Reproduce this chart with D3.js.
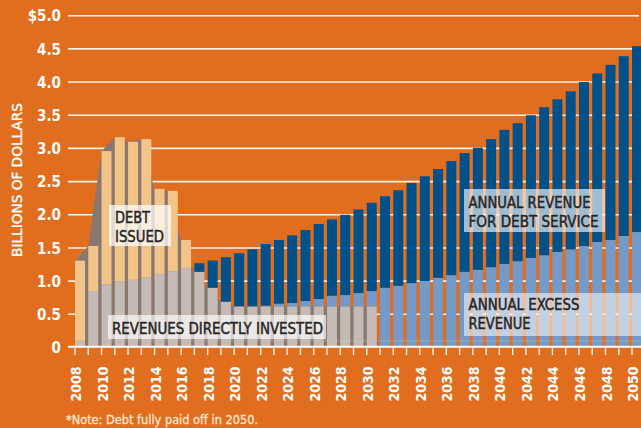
<!DOCTYPE html>
<html>
<head>
<meta charset="utf-8">
<script src="https://cdn.jsdelivr.net/npm/d3@7"></script>
<style>
  html, body { margin: 0; padding: 0; background: #e06e1e; }
  svg { display: block; }
</style>
</head>
<body>
<svg id="chart" width="641" height="428"></svg>
<script>
// Years on the horizontal axis
const years = [2008, 2009, 2010, 2011, 2012, 2013, 2014, 2015, 2016, 2017,
               2018, 2019, 2020, 2021, 2022, 2023, 2024, 2025, 2026, 2027,
               2028, 2029, 2030, 2031, 2032, 2033, 2034, 2035, 2036, 2037,
               2038, 2039, 2040, 2041, 2042, 2043, 2044, 2045, 2046, 2047,
               2048, 2049, 2050];

// Billions of dollars per year, one entry per year above
const invested = [0.10, 0.85, 0.95, 1.00, 1.02, 1.06, 1.11, 1.15, 1.20, 1.14,
                  0.90, 0.69, 0.62, 0.62, 0.62, 0.62, 0.62, 0.62, 0.62, 0.62,
                  0.62, 0.62, 0.62, 0, 0, 0, 0, 0, 0, 0,
                  0, 0, 0, 0, 0, 0, 0, 0, 0, 0,
                  0, 0, 0];
const debtIssued = [1.21, 0.68, 2.01, 2.17, 2.08, 2.08, 1.28, 1.21, 0.42, 0,
                    0, 0, 0, 0, 0, 0, 0, 0, 0, 0,
                    0, 0, 0, 0, 0, 0, 0, 0, 0, 0,
                    0, 0, 0, 0, 0, 0, 0, 0, 0, 0,
                    0, 0, 0];
const excessRevenue = [0, 0, 0, 0, 0, 0, 0, 0, 0, 0,
                       0, 0, 0, 0, 0.01, 0.04, 0.05, 0.08, 0.11, 0.16,
                       0.17, 0.20, 0.23, 0.90, 0.93, 0.97, 1.00, 1.05, 1.09, 1.14,
                       1.17, 1.21, 1.26, 1.30, 1.35, 1.39, 1.44, 1.48, 1.53, 1.59,
                       1.62, 1.68, 1.74];
const debtService = [0, 0, 0, 0, 0, 0, 0, 0, 0, 0.13,
                     0.41, 0.67, 0.80, 0.86, 0.93, 0.96, 1.02, 1.07, 1.13, 1.15,
                     1.21, 1.26, 1.33, 1.38, 1.44, 1.51, 1.58, 1.64, 1.72, 1.79,
                     1.84, 1.93, 2.02, 2.08, 2.15, 2.23, 2.30, 2.38, 2.47, 2.54,
                     2.64, 2.71, 2.80];

const yTickValues = [0, 0.5, 1.0, 1.5, 2.0, 2.5, 3.0, 3.5, 4.0, 4.5, 5.0];
const yTickLabels = ["0", "0.5", "1.0", "1.5", "2.0", "2.5", "3.0", "3.5", "4.0", "4.5", "$5.0"];
const xLabelYears = [2008, 2010, 2012, 2014, 2016, 2018, 2020, 2022, 2024, 2026, 2028,
                     2030, 2032, 2034, 2036, 2038, 2040, 2042, 2044, 2046, 2048, 2050];

const colors = {
  bg: "#e06e1e",
  grid: "#fdf1e6",
  shadow: "#8a786f",
  invested: "#c5bbb6",
  debtIssued: "#f3c487",
  excessRevenue: "#739ac8",
  debtService: "#00518a"
};

const rows = years.map((yr, i) => ({
  year: yr,
  invested: invested[i],
  debtIssued: debtIssued[i],
  excessRevenue: excessRevenue[i],
  debtService: debtService[i]
}));

const svg = d3.select("#chart");
const W = 641, H = 428;
svg.append("rect").attr("width", W).attr("height", H).attr("fill", colors.bg);

const step = 13.262, pad = 0.246;
const x = d3.scaleBand()
  .domain(years)
  .range([75, 75 + step * (years.length - pad)])
  .paddingInner(pad)
  .paddingOuter(0)
  .align(0);
const y = d3.scaleLinear().domain([0, 5]).range([347.5, 15.7]);

const condensed = "'DejaVu Sans Condensed', 'DejaVu Sans', sans-serif";

// Horizontal gridlines
svg.append("g").selectAll("line")
  .data(yTickValues.filter(v => v > 0))
  .join("line")
  .attr("x1", 68).attr("x2", d => d === 5 ? 639 : 641)
  .attr("y1", d => y(d)).attr("y2", d => y(d))
  .attr("stroke", colors.grid).attr("stroke-width", 1.6);

// Dark backing area joining the tops of the invested + debt stacks
const area = d3.area()
  .x(d => x(d.year))
  .y0(y(0))
  .y1(d => y(d.invested + d.debtIssued));
svg.append("path")
  .datum(rows.filter(d => d.year <= 2031))
  .attr("d", area)
  .attr("fill", colors.shadow);

// Stacked bars
const keys = ["invested", "debtIssued", "excessRevenue", "debtService"];
const stacked = d3.stack().keys(keys)(rows);
svg.append("g").selectAll("g")
  .data(stacked)
  .join("g")
  .attr("fill", s => colors[s.key])
  .selectAll("rect")
  .data(s => s.filter(d => d[1] - d[0] > 0))
  .join("rect")
  .attr("x", d => x(d.data.year))
  .attr("width", x.bandwidth())
  .attr("y", d => y(d[1]))
  .attr("height", d => y(d[0]) - y(d[1]));

// faint rule just above the baseline
svg.append("line")
  .attr("x1", 108).attr("x2", 641)
  .attr("y1", y(0.1)).attr("y2", y(0.1))
  .attr("stroke", "#d9bd98").attr("stroke-opacity", 0.45).attr("stroke-width", 1);

// Labelled boxes
const boxes = [
  { x0: 109, x1: 171, y0: 205, y1: 246, a: 0.72,
    lines: [{ t: "DEBT", x: 115, y: 223.3, w: 35 }, { t: "ISSUED", x: 115, y: 241.7, w: 49 }] },
  { x0: 108, x1: 326, y0: 315, y1: 339, a: 0.66,
    lines: [{ t: "REVENUES DIRECTLY INVESTED", x: 112, y: 334, w: 211 }] },
  { x0: 464, x1: 605, y0: 189, y1: 232, a: 0.62,
    lines: [{ t: "ANNUAL REVENUE", x: 468.5, y: 208.3, w: 122 },
            { t: "FOR DEBT SERVICE", x: 468.5, y: 227.3, w: 130 }] },
  { x0: 464, x1: 641, y0: 293, y1: 336, a: 0.55,
    lines: [{ t: "ANNUAL EXCESS", x: 468.5, y: 310, w: 111 },
            { t: "REVENUE", x: 468.5, y: 329, w: 62 }] }
];
const bg = svg.append("g");
boxes.forEach(b => {
  bg.append("rect")
    .attr("x", b.x0).attr("y", b.y0)
    .attr("width", b.x1 - b.x0).attr("height", b.y1 - b.y0)
    .attr("fill", "#ffffff").attr("fill-opacity", b.a);
  b.lines.forEach(l => {
    bg.append("text")
      .attr("x", l.x).attr("y", l.y)
      .attr("textLength", l.w).attr("lengthAdjust", "spacingAndGlyphs")
      .attr("font-family", condensed).attr("font-size", 15.5)
      .attr("fill", "#262626")
      .attr("stroke", "#262626").attr("stroke-width", 0.45)
      .text(l.t);
  });
});

// Baseline and year ticks
svg.append("line")
  .attr("x1", 68).attr("x2", 641)
  .attr("y1", 346.7).attr("y2", 346.7)
  .attr("stroke", "#ffffff").attr("stroke-width", 2);
svg.append("g").selectAll("line")
  .data(years)
  .join("line")
  .attr("x1", d => x(d)).attr("x2", d => x(d))
  .attr("y1", 348.2).attr("y2", 355)
  .attr("stroke", "#ffffff").attr("stroke-width", 1.3);

// Year labels
svg.append("g").selectAll("text")
  .data(xLabelYears)
  .join("text")
  .attr("transform", d => `translate(${x(d) + 1},366.5) rotate(-90)`)
  .attr("text-anchor", "end")
  .attr("dy", "0.36em")
  .attr("font-family", condensed).attr("font-weight", "bold")
  .attr("font-size", 14).attr("fill", "#ffffff")
  .text(d => d);

// Value labels
svg.append("g").selectAll("text")
  .data(yTickValues)
  .join("text")
  .attr("x", 61).attr("y", d => y(d))
  .attr("dy", "0.38em")
  .attr("text-anchor", "end")
  .attr("font-family", condensed).attr("font-weight", "bold")
  .attr("font-size", 15).attr("fill", "#ffffff")
  .text((d, i) => yTickLabels[i]);

// Axis title
svg.append("text")
  .attr("transform", "translate(17,180) rotate(-90)")
  .attr("text-anchor", "middle").attr("dy", "0.36em")
  .attr("textLength", 154).attr("lengthAdjust", "spacingAndGlyphs")
  .attr("font-family", condensed).attr("font-size", 14.5)
  .attr("fill", "#ffffff")
  .attr("stroke", "#ffffff").attr("stroke-width", 0.35)
  .text("BILLIONS OF DOLLARS");

// Footnote
svg.append("text")
  .attr("x", 66).attr("y", 423.5)
  .attr("textLength", 192).attr("lengthAdjust", "spacingAndGlyphs")
  .attr("font-family", condensed).attr("font-size", 13)
  .attr("fill", "#fbe5d4")
  .attr("stroke", "#fbe5d4").attr("stroke-width", 0.3)
  .text("*Note: Debt fully paid off in 2050.");
</script>
</body>
</html>
